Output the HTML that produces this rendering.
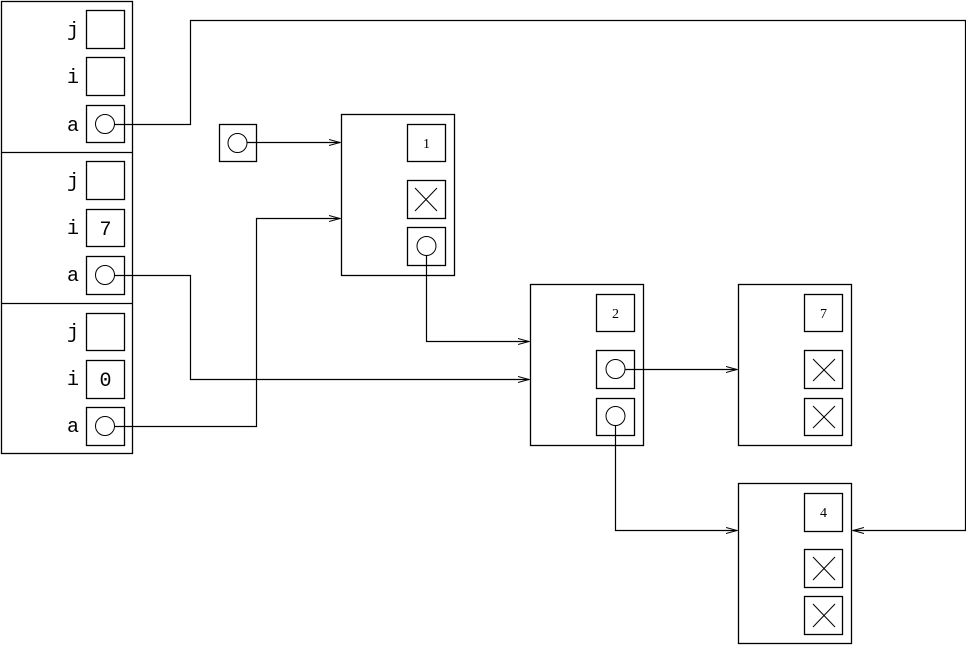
<!DOCTYPE html>
<html><head><meta charset="utf-8"><style>
html,body{margin:0;padding:0;background:#fff;}
svg{display:block;}
text{font-family:"Liberation Mono",monospace;fill:#000;}
</style></head><body>
<svg width="966" height="645" viewBox="0 0 966 645" xmlns="http://www.w3.org/2000/svg">
<defs>
<marker id="ar" markerWidth="12" markerHeight="8" refX="11" refY="4" orient="auto" markerUnits="userSpaceOnUse">
<polyline points="0,1 11,4 0,7" fill="none" stroke="#000" stroke-width="1"/>
</marker>
</defs>
<g fill="none" stroke="#000" stroke-width="1.3">
<!-- stack frames -->
<rect x="1.5" y="1.5" width="131" height="452"/>
<line x1="1" y1="152.5" x2="133" y2="152.5"/>
<line x1="1" y1="303.5" x2="133" y2="303.5"/>
<rect x="86.5" y="10.5" width="38" height="38"/>
<rect x="86.5" y="57.5" width="38" height="38"/>
<rect x="86.5" y="105.5" width="38" height="37"/>
<rect x="86.5" y="161.5" width="38" height="38"/>
<rect x="86.5" y="209.5" width="38" height="37"/>
<rect x="86.5" y="256.5" width="38" height="38"/>
<rect x="86.5" y="313.5" width="38" height="37"/>
<rect x="86.5" y="360.5" width="38" height="38"/>
<rect x="86.5" y="407.5" width="38" height="38"/>
<!-- standalone -->
<rect x="219.5" y="124.5" width="37" height="37"/>
<!-- node1 -->
<rect x="341.5" y="114.5" width="113" height="161"/>
<rect x="407.5" y="124.5" width="38" height="37"/>
<rect x="407.5" y="180.5" width="38" height="38"/>
<rect x="407.5" y="227.5" width="38" height="38"/>
<!-- node2 -->
<rect x="530.5" y="284.5" width="113" height="161"/>
<rect x="596.5" y="294.5" width="38" height="37"/>
<rect x="596.5" y="350.5" width="38" height="38"/>
<rect x="596.5" y="398.5" width="38" height="37"/>
<!-- node3 -->
<rect x="738.5" y="284.5" width="113" height="161"/>
<rect x="804.5" y="294.5" width="38" height="37"/>
<rect x="804.5" y="350.5" width="38" height="38"/>
<rect x="804.5" y="398.5" width="38" height="37"/>
<!-- node4 -->
<rect x="738.5" y="483.5" width="113" height="160"/>
<rect x="804.5" y="493.5" width="38" height="38"/>
<rect x="804.5" y="549.5" width="38" height="38"/>
<rect x="804.5" y="596.5" width="38" height="38"/>
</g>
<g fill="none" stroke="#000" stroke-width="1">
<circle cx="105" cy="124" r="9.5"/>
<circle cx="105" cy="275" r="9.5"/>
<circle cx="105" cy="426" r="9.5"/>
<circle cx="237.5" cy="143" r="9.5"/>
<circle cx="426.5" cy="246" r="9.5"/>
<circle cx="615.5" cy="369" r="9.5"/>
<circle cx="615.5" cy="416" r="9.5"/>
<!-- X marks -->
<path d="M415,188 L437,211 M437,188 L415,211"/>
<path d="M813,359 L835,381 M835,359 L813,381"/>
<path d="M813,406 L835,428 M835,406 L813,428"/>
<path d="M813,557 L835,580 M835,557 L813,580"/>
<path d="M813,604 L835,627 M835,604 L813,627"/>
</g>
<g fill="none" stroke="#000" stroke-width="1.2">
<polyline points="114.5,124.5 190.5,124.5 190.5,20.5 965.5,20.5 965.5,530.5 853,530.5" marker-end="url(#ar)"/>
<polyline points="247,142.5 340,142.5" marker-end="url(#ar)"/>
<polyline points="114.5,275.5 190.5,275.5 190.5,379.5 529,379.5" marker-end="url(#ar)"/>
<polyline points="114.5,426.5 256.5,426.5 256.5,218.5 340,218.5" marker-end="url(#ar)"/>
<polyline points="426.5,255.5 426.5,341.5 529,341.5" marker-end="url(#ar)"/>
<polyline points="625,369.5 737,369.5" marker-end="url(#ar)"/>
<polyline points="615.5,425.5 615.5,530.5 737,530.5" marker-end="url(#ar)"/>
</g>
<g font-size="20" text-anchor="middle">
<text x="73" y="36">j</text>
<text x="73" y="83">i</text>
<text x="73" y="131">a</text>
<text x="73" y="187">j</text>
<text x="73" y="234">i</text>
<text x="73" y="281">a</text>
<text x="73" y="338">j</text>
<text x="73" y="385">i</text>
<text x="73" y="432">a</text>
<text x="105.5" y="235">7</text>
<text x="105.5" y="386">0</text>
</g>
<g font-size="14" text-anchor="middle" font-family="Liberation Serif, serif">
<text x="426.5" y="148" style="font-family:'Liberation Serif',serif">1</text>
<text x="615.5" y="318" style="font-family:'Liberation Serif',serif">2</text>
<text x="823.5" y="318" style="font-family:'Liberation Serif',serif">7</text>
<text x="823.5" y="517" style="font-family:'Liberation Serif',serif">4</text>
</g>
</svg>
</body></html>
